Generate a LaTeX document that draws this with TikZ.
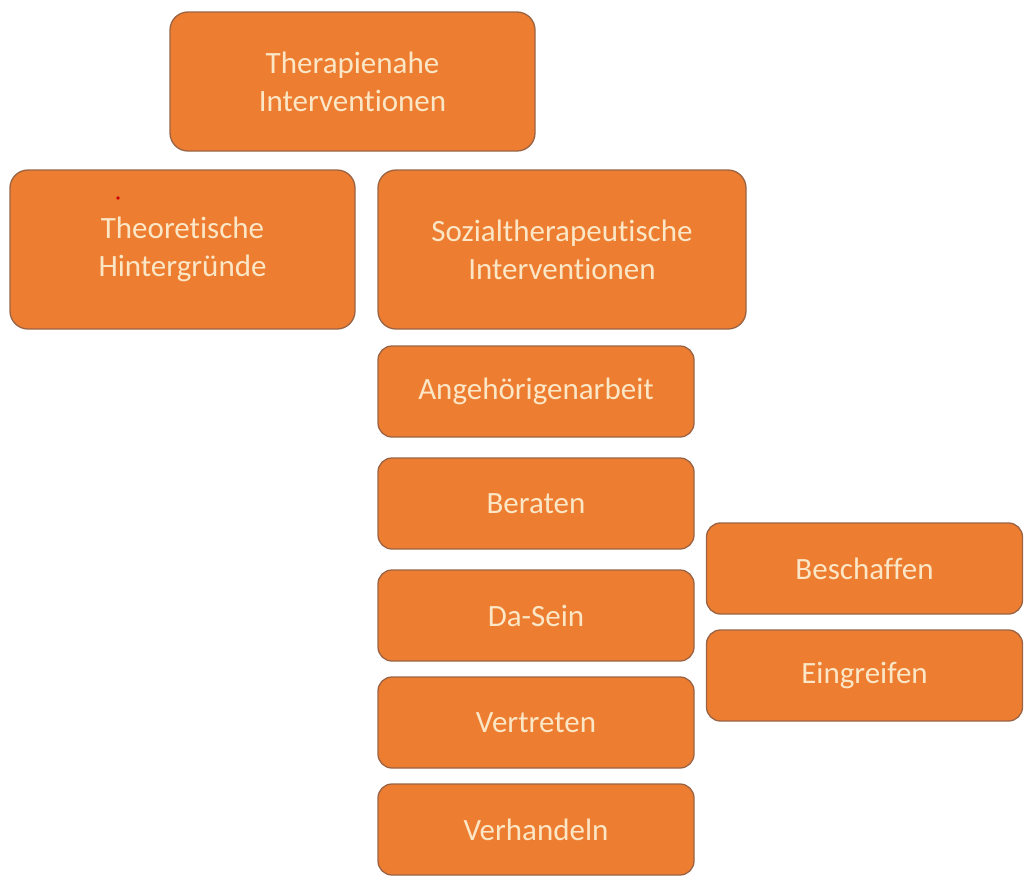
\documentclass[tikz,border=0pt]{standalone}
\usepackage{fontspec}
\setmainfont[Ligatures=NoCommon]{Carlito}
\definecolor{boxfill}{HTML}{ED7D31}
\definecolor{boxline}{HTML}{9A6444}
\definecolor{boxtext}{HTML}{FBE6C6}
\begin{document}
\begin{tikzpicture}[x=1pt,y=-1pt,
  box/.style={draw=boxline, line width=1.3pt, fill=boxfill, rounded corners=18pt,
    text=boxtext, font=\fontsize{31}{38}\selectfont, align=center, inner sep=0pt},
  bigbox/.style={box, minimum width=#1, minimum height=159pt},
  smallbox/.style={box, minimum width=316pt, minimum height=91pt, rounded corners=14pt}]
\useasboundingbox[fill=white] (0,0) rectangle (1036,889);
\node[box, minimum width=365pt, minimum height=139pt] (thera) at (352.5,81.5) {Therapienahe\\Interventionen};
\node[bigbox=345pt] (theo) at (182.5,249.5) {Theoretische\\Hintergründe};
\node[bigbox=368pt] (sozial) at (562,249.5) {Sozialtherapeutische\\Interventionen};
\node[smallbox] (angeh) at (536,391.5) {Angehörigenarbeit};
\node[smallbox] (beraten) at (536,503.5) {Beraten};
\node[smallbox] (dasein) at (536,615.5) {Da-Sein};
\node[smallbox] (vertreten) at (536,722.5) {Vertreten};
\node[smallbox] (verhandeln) at (536,829.5) {Verhandeln};
\node[smallbox] (beschaffen) at (864.5,568.5) {Beschaffen};
\node[smallbox] (eingreifen) at (864.5,675.5) {Eingreifen};
\fill[red!80!black] (118,198) circle (1.8pt);
\end{tikzpicture}
\end{document}
